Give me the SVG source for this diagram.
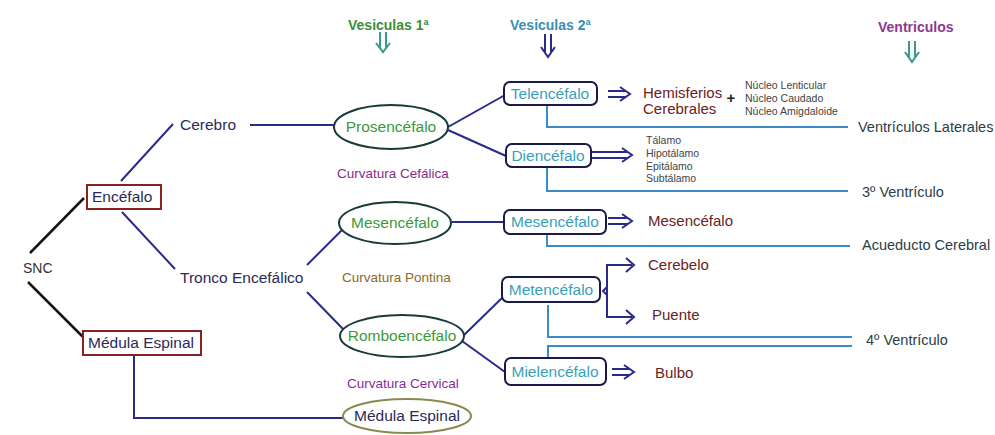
<svg xmlns="http://www.w3.org/2000/svg" width="995" height="435" viewBox="0 0 995 435">
<style>
text{font-family:"Liberation Sans",Arial,sans-serif;}
.m{font-size:15.5px;}
.hd{font-size:14px;font-weight:bold;}
.cv{font-size:13.5px;}
.sm{font-size:10.5px;fill:#444;}
.nav{fill:#2a2a5a;}
.grn{fill:#3a9a3a;}
.tl{fill:#3aa0b8;}
.red{fill:#6a2222;font-size:15px;}
.vt{fill:#2a4048;font-size:14.5px;}
.ln{fill:none;stroke:#2a2a8a;stroke-width:2;}
.bk{fill:none;stroke:#151515;stroke-width:2.5;}
.tq{fill:none;stroke:#3a8ac8;stroke-width:2;}
.box1{fill:#fff;stroke:#8b2020;stroke-width:2;}
.box2{fill:#fff;stroke:#1a1a4a;stroke-width:2;}
.ell{fill:#fff;stroke:#1a3a3a;stroke-width:2;}
.arr{fill:none;stroke:#2a2a8a;stroke-width:2;stroke-linejoin:miter;}
</style>
<rect width="995" height="435" fill="#fff"/>

<g id="headers">
  <text x="348" y="30" class="hd" fill="#3c8c3c">Vesiculas 1ª</text>
  <path d="M380,32 V48 M386,32 V48 M376,43 L383,52 L390,43" fill="none" stroke="#3a9a8a" stroke-width="2"/>
  <text x="510" y="30" class="hd" fill="#3a8fb5">Vesiculas 2ª</text>
  <path d="M545,34 V52 M551,34 V52 M541,47 L548,57 L555,47" fill="none" stroke="#2a2a8a" stroke-width="2"/>
  <text x="878" y="32" class="hd" fill="#8a3a8a">Ventriculos</text>
  <path d="M909,41 V57 M915,41 V57 M905,52 L912,62 L919,52" fill="none" stroke="#3a9a8a" stroke-width="2"/>
</g>

<g id="connectors">
  <path class="bk" d="M30,253 L84,198"/>
  <path class="bk" d="M28,282 L83,337"/>
  <path class="ln" d="M121,181 L173,124"/>
  <path class="ln" d="M122,212 L175,269"/>
  <path class="ln" d="M250,125 L334,125"/>
  <path class="ln" d="M448,127 L505,95"/>
  <path class="ln" d="M448,130 L506,156"/>
  <path class="ln" d="M307,265 L343,229"/>
  <path class="ln" d="M307,292 L344,330"/>
  <path class="ln" d="M452,222 L504,222"/>
  <path class="ln" d="M462,337 L503,297"/>
  <path class="ln" d="M462,341 L505,372"/>
  <path class="ln" d="M134,355 V418 H343"/>
  <path class="tq" d="M547,105 V127 H848"/>
  <path class="tq" d="M547,167 V191 H848"/>
  <path class="tq" d="M547,234 V246 H850"/>
  <path class="tq" d="M548,305 V337 H852"/>
  <path class="tq" d="M548,358 V346 H852"/>
  <path class="arr" d="M608,91 H626 M608,97 H626 M620,87 L630,94 L620,101"/>
  <path class="arr" d="M592,152 H628 M592,158 H628 M622,148 L632,155 L622,162"/>
  <path class="arr" d="M608,218 H628 M608,224 H628 M622,214 L632,221 L622,228"/>
  <path class="arr" d="M612,369 H630 M612,375 H630 M624,365 L634,372 L624,379"/>
  <path class="arr" d="M632,265 H607 V317 H632 M626,258 L634,265 L626,272 M626,310 L634,317 L626,324 M607,287 L603,291 L607,295"/>
</g>

<g id="snc"><text x="23" y="273" font-size="14" fill="#333">SNC</text></g>
<g id="encefalo"><rect class="box1" x="87" y="185" width="74" height="24"/><text x="92" y="202" class="m nav">Encéfalo</text></g>
<g id="medula-box"><rect class="box1" x="83" y="331" width="118" height="24"/><text x="88" y="348" class="m nav">Médula Espinal</text></g>
<g id="cerebro"><text x="180" y="130" class="m nav">Cerebro</text></g>
<g id="tronco"><text x="180" y="283" class="m nav">Tronco Encefálico</text></g>

<g id="prosencefalo"><ellipse class="ell" cx="391" cy="127" rx="57" ry="22"/><text x="391" y="132" text-anchor="middle" class="m grn">Prosencéfalo</text></g>
<g id="curv-cefalica"><text x="337" y="178" class="cv" fill="#8a2a8a">Curvatura Cefálica</text></g>
<g id="mesencefalo1"><ellipse class="ell" cx="395" cy="223" rx="56" ry="21"/><text x="395" y="228" text-anchor="middle" class="m grn">Mesencéfalo</text></g>
<g id="curv-pontina"><text x="342" y="282" class="cv" fill="#8a6a2a">Curvatura Pontina</text></g>
<g id="romboencefalo"><ellipse class="ell" cx="402" cy="336" rx="62" ry="21"/><text x="402" y="341" text-anchor="middle" class="m grn">Romboencéfalo</text></g>
<g id="curv-cervical"><text x="347" y="388" class="cv" fill="#8a2a9a">Curvatura Cervical</text></g>
<g id="medula-ell"><ellipse cx="407" cy="416" rx="64" ry="17" fill="#fff" stroke="#8a8a50" stroke-width="2"/><text x="407" y="421" text-anchor="middle" class="m nav">Médula Espinal</text></g>

<g id="telencefalo"><rect class="box2" x="504" y="82" width="93" height="23" rx="6"/><text x="550" y="99" text-anchor="middle" class="m tl">Telencéfalo</text></g>
<g id="diencefalo"><rect class="box2" x="506" y="144" width="85" height="23" rx="6"/><text x="548" y="161" text-anchor="middle" class="m tl">Diencéfalo</text></g>
<g id="mesencefalo2"><rect class="box2" x="504" y="210" width="102" height="24" rx="6"/><text x="555" y="227" text-anchor="middle" class="m tl">Mesencéfalo</text></g>
<g id="metencefalo"><rect class="box2" x="502" y="277" width="98" height="25" rx="6"/><text x="551" y="295" text-anchor="middle" class="m tl">Metencéfalo</text></g>
<g id="mielencefalo"><rect class="box2" x="505" y="358" width="101" height="27" rx="6"/><text x="555" y="377" text-anchor="middle" class="m tl">Mielencéfalo</text></g>

<g id="hemisferios">
  <text x="643" y="98" class="red">Hemisferios</text>
  <text x="643" y="114" class="red">Cerebrales</text>
  <text x="731" y="103" text-anchor="middle" font-size="15" font-weight="bold" fill="#222">+</text>
</g>
<g id="nucleos">
  <text x="745" y="89" class="sm">Núcleo Lenticular</text>
  <text x="745" y="102" class="sm">Núcleo Caudado</text>
  <text x="745" y="115" class="sm">Núcleo Amigdaloide</text>
</g>
<g id="talamos">
  <text x="646" y="144" class="sm">Tálamo</text>
  <text x="646" y="157" class="sm">Hipotálamo</text>
  <text x="646" y="170" class="sm">Epitálamo</text>
  <text x="646" y="182" class="sm">Subtálamo</text>
</g>
<g id="mesencefalo3"><text x="648" y="226" class="red">Mesencéfalo</text></g>
<g id="cerebelo"><text x="648" y="270" class="red">Cerebelo</text></g>
<g id="puente"><text x="652" y="320" class="red">Puente</text></g>
<g id="bulbo"><text x="655" y="378" class="red">Bulbo</text></g>

<g id="v-laterales"><text x="858" y="132" class="vt">Ventrículos Laterales</text></g>
<g id="v-3"><text x="862" y="197" class="vt">3º Ventrículo</text></g>
<g id="acueducto"><text x="862" y="250" class="vt">Acueducto Cerebral</text></g>
<g id="v-4"><text x="866" y="345" class="vt">4º Ventrículo</text></g>
</svg>
